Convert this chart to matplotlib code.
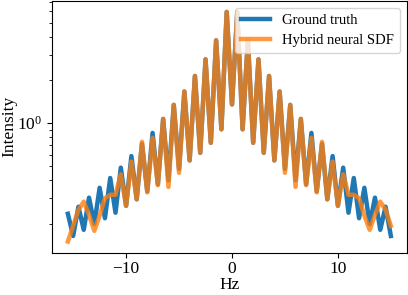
import numpy as np
import matplotlib
matplotlib.use("Agg")
import matplotlib.pyplot as plt

plt.rcParams['font.family'] = ['Liberation Serif', 'DejaVu Serif']
plt.rcParams['mathtext.fontset'] = 'stix'

# frequency samples (Hz)
freq = np.arange(-15.5, 15.01, 0.5)

ground_truth = [
    0.234, 0.164, 0.262, 0.181, 0.303, 0.198, 0.355, 0.218, 0.415, 0.238,
    0.49, 0.266, 0.59, 0.295, 0.718, 0.335, 0.855, 0.375, 1.07, 0.40,
    1.34, 0.48, 1.66, 0.55, 2.13, 0.622, 2.78, 0.730, 3.77, 0.906,
    5.94, 1.35, 5.94, 0.906, 3.77, 0.730, 2.78, 0.622, 2.13, 0.55,
    1.66, 0.48, 1.34, 0.40, 1.07, 0.375, 0.855, 0.335, 0.718, 0.295,
    0.59, 0.266, 0.49, 0.238, 0.415, 0.218, 0.355, 0.198, 0.303, 0.181,
    0.262, 0.164,
]

hybrid_sdf = [
    0.15, 0.193, 0.249, 0.284, 0.230, 0.178, 0.227, 0.30, 0.317, 0.317,
    0.44, 0.266, 0.54, 0.295, 0.741, 0.33, 0.79, 0.37, 1.07, 0.36,
    1.34, 0.451, 1.66, 0.55, 2.13, 0.622, 2.78, 0.730, 3.77, 0.906,
    5.94, 1.35, 5.94, 0.906, 3.77, 0.730, 2.78, 0.622, 2.13, 0.55,
    1.66, 0.451, 1.34, 0.36, 1.07, 0.37, 0.79, 0.33, 0.741, 0.295,
    0.54, 0.266, 0.44, 0.317, 0.317, 0.30, 0.227, 0.181, 0.230, 0.284,
    0.25, 0.193,
]

fig = plt.figure(figsize=(4.08, 2.95), dpi=100)
ax = fig.add_axes([51.7 / 408, 42 / 295, (407 - 51.7) / 408, 252.5 / 295])

ax.plot(freq, ground_truth, color='tab:blue', lw=3.2, label='Ground truth')
ax.plot(freq, hybrid_sdf, color='tab:orange', lw=3.2, alpha=0.8, label='Hybrid neural SDF')
ax.set_yscale('log')
ax.set_xlabel('Hz', fontsize=12.5, labelpad=0)
ax.set_ylabel('Intensity', fontsize=12.5)
ax.yaxis.set_label_coords(-0.098, 0.5)
ax.tick_params(labelsize=12.5)
ax.tick_params(axis='x', pad=2)
ax.legend(loc='upper right', fontsize=10.5)

fig.savefig('out.png', dpi=100)
